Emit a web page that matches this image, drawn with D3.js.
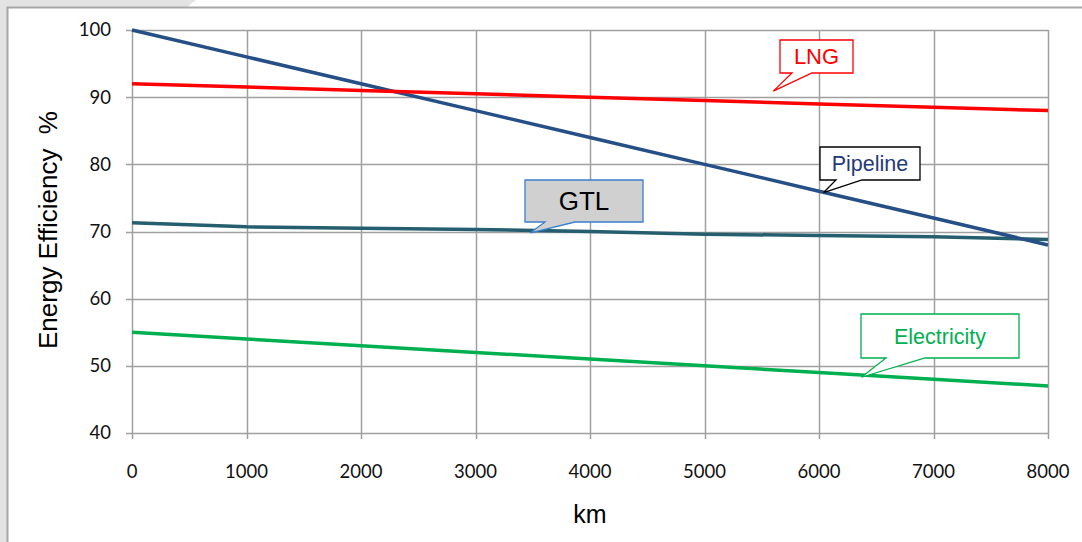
<!DOCTYPE html>
<html>
<head>
<meta charset="utf-8">
<script src="https://cdn.jsdelivr.net/npm/d3@7"></script>
<style>
body { margin: 0; background: #fff; }
</style>
</head>
<body>
<svg id="chart"></svg>
<script>
var distances = [0, 1000, 2000, 3000, 4000, 5000, 6000, 7000, 8000]
var lngValues = [92, 91.5, 91, 90.5, 90, 89.5, 89, 88.5, 88]
var pipelineValues = [100, 96, 92, 88, 84, 80, 76, 72, 68]
var gtlValues = [71.3, 70.7, 70.5, 70.3, 70.0, 69.6, 69.4, 69.2, 68.8]
var electricityValues = [55, 54, 53, 52, 51, 50, 49, 48, 47]
var xTicks = [0, 1000, 2000, 3000, 4000, 5000, 6000, 7000, 8000]
var yTicks = [40, 50, 60, 70, 80, 90, 100]

var series = [
    {name: "GTL", values: gtlValues, color: "#255e6e"},
    {name: "Electricity", values: electricityValues, color: "#00b050"},
    {name: "Pipeline", values: pipelineValues, color: "#254f86"},
    {name: "LNG", values: lngValues, color: "#ff0000"}
]

// callout boxes: box in pixels, tail tip given in data units
var callouts = [
    {text: "LNG", x: 780, y: 40, w: 73, h: 33, fill: "#fff", stroke: "#ff0000", color: "#ff0000", size: 22,
     tailA: 792, tailB: 812, tip: [5601, 90.9]},
    {text: "Pipeline", x: 820, y: 147, w: 100, h: 33, fill: "#fff", stroke: "#000", color: "#1f3a7a", size: 21.5,
     tailA: 836, tailB: 862, tip: [6040, 75.8]},
    {text: "GTL", x: 525, y: 180, w: 118, h: 42, fill: "#d0d0d0", stroke: "#3a7fcf", color: "#000", size: 26,
     tailA: 545, tailB: 575, tip: [3480, 69.8]},
    {text: "Electricity", x: 861, y: 314, w: 158, h: 44, fill: "#fff", stroke: "#00b050", color: "#00b050", size: 21.5,
     tailA: 886, tailB: 925, tip: [6370, 48.3]}
]

var screen = {width: 1082, height: 542}
var margins = {top: 30, left: 132, right: 34, bottom: 109}
var graph = {
    width: screen.width - margins.left - margins.right,
    height: screen.height - margins.top - margins.bottom
}

var svg = d3.select("#chart")
    .attr("width", screen.width)
    .attr("height", screen.height)

// slide background
svg.append("rect")
    .attr("x", 0).attr("y", 0)
    .attr("width", screen.width).attr("height", screen.height)
    .attr("fill", "#e3e3e3")
svg.append("polygon")
    .attr("points", "196,0 1082,0 1082,8 186,8")
    .attr("fill", "#fff")
svg.append("rect")
    .attr("x", 7.5).attr("y", 7.5)
    .attr("width", screen.width).attr("height", screen.height)
    .attr("fill", "#fff")
    .attr("stroke", "#a6a6a6")
    .attr("stroke-width", 2)

var xScale = d3.scaleLinear()
    .domain([0, 8000])
    .range([0, graph.width])

var yScale = d3.scaleLinear()
    .domain([40, 100])
    .range([graph.height, 0])

var g = svg.append("g")
    .attr("transform", "translate(" + margins.left + "," + margins.top + ")")

// grid
g.append("g").selectAll("line")
    .data(yTicks)
    .enter()
    .append("line")
    .attr("x1", -6).attr("x2", graph.width)
    .attr("y1", function(d) { return Math.round(yScale(d)) + 0.5 })
    .attr("y2", function(d) { return Math.round(yScale(d)) + 0.5 })
    .attr("stroke", "#a0a0a0")
    .attr("stroke-width", 1.5)

g.append("g").selectAll("line")
    .data(xTicks)
    .enter()
    .append("line")
    .attr("x1", function(d) { return Math.round(xScale(d)) + 0.5 })
    .attr("x2", function(d) { return Math.round(xScale(d)) + 0.5 })
    .attr("y1", 0).attr("y2", graph.height + 6)
    .attr("stroke", "#a0a0a0")
    .attr("stroke-width", 1.5)

// tick labels
g.append("g").selectAll("text")
    .data(yTicks)
    .enter()
    .append("text")
    .attr("x", -21)
    .attr("y", function(d) { return yScale(d) })
    .attr("dy", "0.35em")
    .attr("text-anchor", "end")
    .attr("font-family", "Lato, 'Open Sans', sans-serif")
    .attr("font-size", 18.5)
    .attr("fill", "#111")
    .text(function(d) { return d })

g.append("g").selectAll("text")
    .data(xTicks)
    .enter()
    .append("text")
    .attr("x", function(d) { return xScale(d) })
    .attr("y", graph.height + 45)
    .attr("text-anchor", "middle")
    .attr("font-family", "Lato, 'Open Sans', sans-serif")
    .attr("font-size", 18.5)
    .attr("fill", "#111")
    .text(function(d) { return d })

// axis titles
svg.append("text")
    .attr("transform", "translate(57,230) rotate(-90)")
    .attr("text-anchor", "middle")
    .attr("font-family", "'Liberation Sans', Arial, sans-serif")
    .attr("font-size", 26)
    .attr("fill", "#000")
    .style("white-space", "pre")
    .text("Energy Efficiency  %")

svg.append("text")
    .attr("x", 590)
    .attr("y", 523)
    .attr("text-anchor", "middle")
    .attr("font-family", "'Liberation Sans', Arial, sans-serif")
    .attr("font-size", 25)
    .attr("fill", "#000")
    .text("km")

// lines
var lineGenerator = d3.line()
    .x(function(v, i) { return xScale(distances[i]) })
    .y(function(v) { return yScale(v) })

g.append("g").selectAll("path")
    .data(series)
    .enter()
    .append("path")
    .attr("d", function(s) { return lineGenerator(s.values) })
    .attr("fill", "none")
    .attr("stroke", function(s) { return s.color })
    .attr("stroke-width", 3.5)

// callouts
var boxes = svg.append("g").selectAll("g")
    .data(callouts)
    .enter()
    .append("g")

boxes.append("path")
    .attr("d", function(c) {
        var tx = margins.left + xScale(c.tip[0])
        var ty = margins.top + yScale(c.tip[1])
        var b = c.y + c.h
        return "M" + c.x + "," + c.y + "H" + (c.x + c.w) + "V" + b +
            "H" + c.tailB + "L" + tx + "," + ty + "L" + c.tailA + "," + b +
            "H" + c.x + "Z"
    })
    .attr("fill", function(c) { return c.fill })
    .attr("stroke", function(c) { return c.stroke })
    .attr("stroke-width", 1.3)

boxes.append("text")
    .attr("x", function(c) { return c.x + c.w / 2 })
    .attr("y", function(c) { return c.y + c.h / 2 })
    .attr("dy", "0.36em")
    .attr("text-anchor", "middle")
    .attr("font-family", "'Liberation Sans', Arial, sans-serif")
    .attr("font-size", function(c) { return c.size })
    .attr("fill", function(c) { return c.color })
    .text(function(c) { return c.text })
</script>
</body>
</html>
